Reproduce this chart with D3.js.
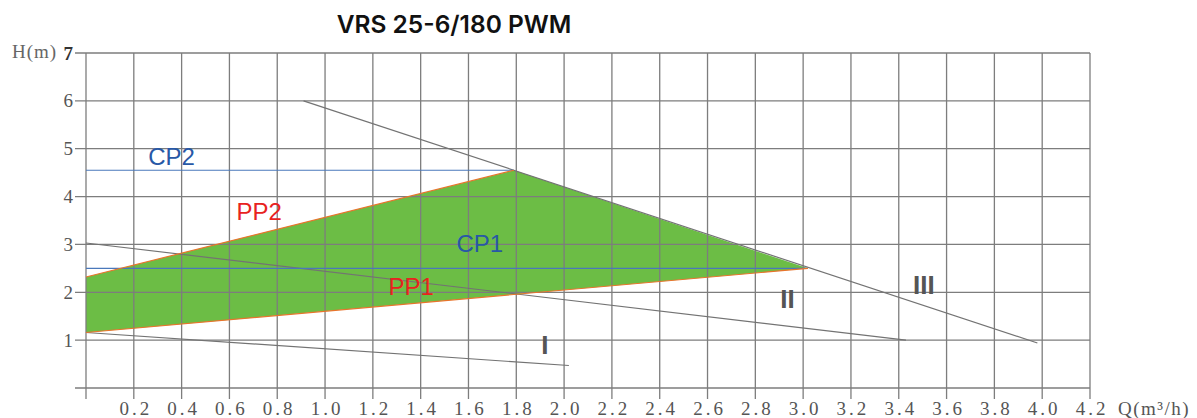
<!DOCTYPE html>
<html><head><meta charset="utf-8">
<script src="https://cdn.jsdelivr.net/npm/d3@7"></script>
<style>html,body{margin:0;padding:0;background:#fff;}svg{display:block;}</style>
</head><body>
<svg id="c" width="1197" height="418"></svg>
<script>
// ---- data ----
const title = "VRS 25-6/180 PWM";
const xTicks = [0.2,0.4,0.6,0.8,1.0,1.2,1.4,1.6,1.8,2.0,2.2,2.4,2.6,2.8,3.0,3.2,3.4,3.6,3.8,4.0,4.2];
const yTicks = [1,2,3,4,5,6,7];
const xGrid = [0].concat(xTicks);
const yGrid = [0].concat(yTicks);
// pump curves (Q, H)
const curveIII = [[0.91,6.0],[3.98,0.94]];
const curveII  = [[0,3.03],[3.43,1.0]];
const curveI   = [[0,1.16],[2.02,0.47]];
// operating area
const areaPts = [[0,2.32],[1.79,4.55],[3.02,2.5],[0,1.16]];
const pp2 = [[0,2.32],[1.79,4.55]];
const pp1 = [[0,1.16],[3.02,2.5]];
const cp2 = [[0,4.55],[1.79,4.55]];
const cp1 = [[0,2.5],[3.02,2.5]];
const modeLabels = [
  {t:"CP2", q:0.26, h:4.66, c:"#2858a6"},
  {t:"PP2", q:0.63, h:3.51, c:"#e8231e"},
  {t:"CP1", q:1.55, h:2.84, c:"#2858a6"},
  {t:"PP1", q:1.265, h:1.94, c:"#e8231e"}
];
const speedLabels = [
  {t:"I", q:1.904, h:0.71},
  {t:"II", q:2.904, h:1.67},
  {t:"III", q:3.46, h:1.96}
];

const svg = d3.select("#c");
const x = d3.scaleLinear().domain([0,4.2]).range([86,1090]);
const y = d3.scaleLinear().domain([0,7]).range([388,53]);
const line = d3.line().x(d=>x(d[0])).y(d=>y(d[1]));

// title
svg.append("text").attr("x",454).attr("y",33).attr("text-anchor","middle")
  .attr("font-family","Inter, 'Open Sans', sans-serif").attr("font-weight",600)
  .attr("font-size",24.5).attr("fill","#111").text(title);

// green area
svg.append("path").attr("d", line(areaPts)+"Z").attr("fill","#6cbd45");

// grid
const g = svg.append("g").attr("stroke","#7d7d7d").attr("stroke-width",1.3);
g.selectAll("line.v").data(xGrid).join("line").attr("class","v")
  .attr("x1",d=>x(d)).attr("x2",d=>x(d)).attr("y1",y(7)).attr("y2",y(0)+11);
g.selectAll("line.h").data(yGrid).join("line").attr("class","h")
  .attr("y1",d=>y(d)).attr("y2",d=>y(d)).attr("x1",x(0)-11).attr("x2",x(4.2));

// curves
[curveIII, curveII, curveI].forEach(c=>{
  svg.append("path").attr("d",line(c)).attr("fill","none").attr("stroke","#737373").attr("stroke-width",1.2);
});
[cp2, cp1].forEach(c=>{
  svg.append("path").attr("d",line(c)).attr("fill","none").attr("stroke","#4a78bb").attr("stroke-width",1.1);
});
[pp2, pp1].forEach(c=>{
  svg.append("path").attr("d",line(c)).attr("fill","none").attr("stroke","#e8742c").attr("stroke-width",1.2);
});

// mode labels
svg.selectAll("text.m").data(modeLabels).join("text").attr("class","m")
  .attr("x",d=>x(d.q)).attr("y",d=>y(d.h)).attr("fill",d=>d.c)
  .attr("font-family","'Liberation Sans', Arial, sans-serif").attr("font-size",24).text(d=>d.t);
svg.selectAll("text.s").data(speedLabels).join("text").attr("class","s")
  .attr("x",d=>x(d.q)).attr("y",d=>y(d.h)).attr("fill","#555")
  .attr("font-family","'Liberation Sans', Arial, sans-serif").attr("font-weight","bold")
  .attr("font-size",26).text(d=>d.t);

// tick labels
const serif = "'Liberation Serif', 'DejaVu Serif', serif";
svg.selectAll("text.xt").data(xTicks).join("text").attr("class","xt")
  .attr("x",d=>x(d)+2).attr("y",415).attr("text-anchor","middle")
  .attr("font-family",serif).attr("font-size",19).attr("letter-spacing",3)
  .attr("fill","#555").text(d=>d3.format(".1f")(d));
svg.selectAll("text.yt").data(yTicks).join("text").attr("class","yt")
  .attr("x",73).attr("y",d=>y(d)+6.5).attr("text-anchor","end")
  .attr("font-family",serif).attr("font-size",19)
  .attr("font-weight",d=>d===7?"bold":"normal")
  .attr("fill",d=>d===7?"#333":"#555").text(d=>d);

svg.append("text").attr("x",12).attr("y",58).attr("font-family",serif).attr("font-size",19)
  .attr("fill","#666").attr("letter-spacing",1).text("H(m)");
svg.append("text").attr("x",1118).attr("y",415).attr("font-family",serif).attr("font-size",19)
  .attr("fill","#555").attr("letter-spacing",1.5).text("Q(m³/h)");
</script>
</body></html>
